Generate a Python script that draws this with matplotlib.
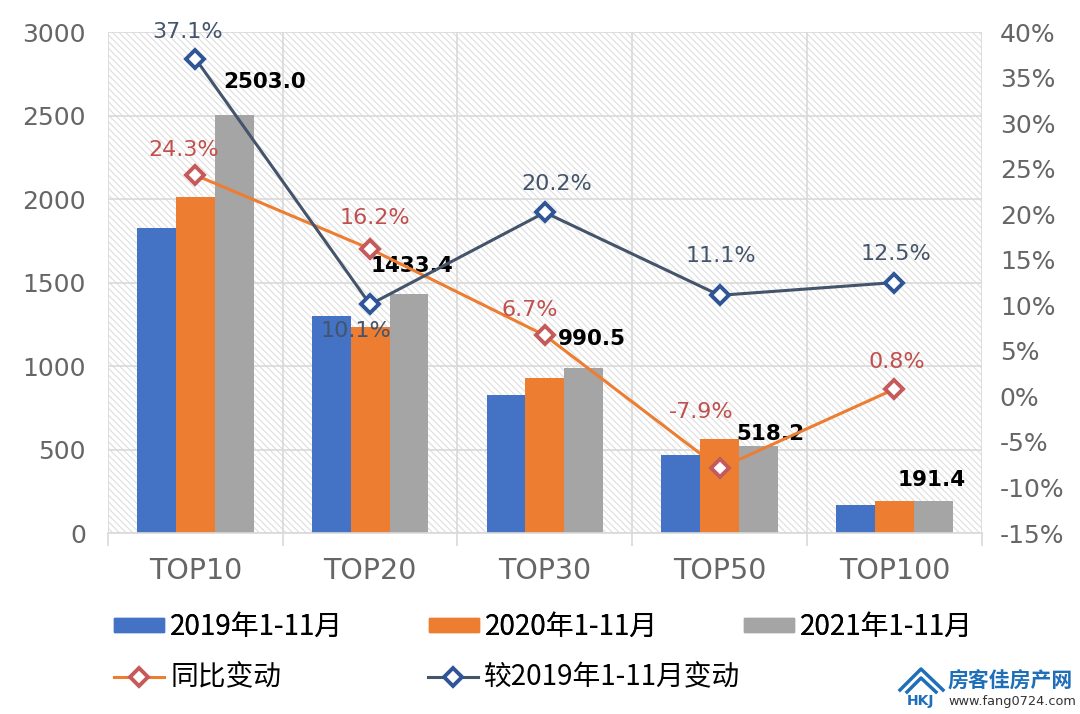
"""
TOP房企销售额对比 (柱+折线双轴)
"""
import numpy as np
import matplotlib
matplotlib.use("Agg")
import matplotlib.pyplot as plt
from matplotlib.patches import Patch
from matplotlib.lines import Line2D
from matplotlib.ticker import FuncFormatter

plt.rcParams['font.family'] = ['DejaVu Sans', 'Noto Sans CJK SC']
plt.rcParams['hatch.color'] = '#dedede'
plt.rcParams['hatch.linewidth'] = 0.8

categories = ["TOP10", "TOP20", "TOP30", "TOP50", "TOP100"]
sales_2019 = [1825.7, 1301.9, 824.0, 466.4, 170.1]
sales_2020 = [2013.7, 1233.6, 928.3, 562.7, 189.9]
sales_2021 = [2503.0, 1433.4, 990.5, 518.2, 191.4]
yoy_change = [24.3, 16.2, 6.7, -7.9, 0.8]
vs2019_change = [37.1, 10.1, 20.2, 11.1, 12.5]

series_names = ["2019年1-11月", "2020年1-11月", "2021年1-11月"]
line_names = ["同比变动", "较2019年1-11月变动"]

# label offsets in pixels (layout only)
bar_lbl_off = [(30, 33), (3, 28), (8, 29), (12, 12), (-2, 21)]
yoy_lbl_off = [(-12, 25), (5, 31), (-15, 25), (-18, 56), (2, 27)]
vs_lbl_off = [(-8, 27), (-14, -27), (12, 28), (1, 39), (2, 29)]

bar_colors = ['#4472C4', '#ED7D31', '#A5A5A5']
yoy_line, yoy_mark = '#ED7D31', '#C55A5A'
vs_line, vs_mark = '#44546A', '#2F5597'
grid_c = '#d9d9d9'
tick_c = '#666666'
cjk = ['Noto Sans CJK SC', 'DejaVu Sans']

fig = plt.figure(figsize=(10.8, 7.14), dpi=100)
ax = fig.add_axes([0.1, 0.2535, 0.809, 0.7015])
ax.patch.set_facecolor('white')
ax.patch.set_hatch('\\\\\\\\\\')
ax.patch.set_edgecolor('#dedede')

x = np.arange(len(categories))
w = 0.222
for i, vals in enumerate([sales_2019, sales_2020, sales_2021]):
    ax.bar(x + (i - 1) * w, vals, w, color=bar_colors[i], zorder=2)

for xi, v, off in zip(x, sales_2021, bar_lbl_off):
    ax.annotate(f"{v:.1f}", (xi + w, v), xytext=off, textcoords='offset pixels',
                ha='center', va='center', fontsize=15.5, fontweight='bold',
                color='black', zorder=6)

ax.set_xlim(-0.5, len(categories) - 0.5)
ax.set_ylim(0, 3000)
ax.set_yticks(np.arange(0, 3001, 500))
ax.set_xticks(x)
ax.set_xticklabels(categories)
ax.set_xticks(np.arange(-0.5, len(categories)), minor=True)
ax.grid(True, which='major', axis='y', color=grid_c, lw=1.2, zorder=1)
ax.grid(True, which='minor', axis='x', color=grid_c, lw=1.2, zorder=1)
ax.set_axisbelow(True)
ax.tick_params(axis='x', which='major', length=0, pad=17, labelsize=20.5, labelcolor=tick_c)
ax.tick_params(axis='x', which='minor', length=9, color=grid_c, width=1.2)
ax.tick_params(axis='y', length=0, pad=16, labelsize=18, labelcolor=tick_c)
for s in ['top', 'left', 'right']:
    ax.spines[s].set_visible(False)
ax.spines['bottom'].set_color(grid_c)
ax.spines['bottom'].set_linewidth(1.2)

ax2 = ax.twinx()
ax2.set_ylim(-15, 40)
ax2.set_yticks(np.arange(-15, 41, 5))
ax2.yaxis.set_major_formatter(FuncFormatter(lambda v, p: f"{v:.0f}%"))
ax2.tick_params(axis='y', length=0, pad=13, labelsize=18, labelcolor=tick_c)
for s in ax2.spines.values():
    s.set_visible(False)

ax2.plot(x, yoy_change, color=yoy_line, lw=2.2, marker='D', ms=9,
         mfc='white', mec=yoy_mark, mew=2.8, zorder=4)
ax2.plot(x, vs2019_change, color=vs_line, lw=2.2, marker='D', ms=9,
         mfc='white', mec=vs_mark, mew=2.8, zorder=4)

for xi, v, off in zip(x, yoy_change, yoy_lbl_off):
    ax2.annotate(f"{v:.1f}%", (xi, v), xytext=off,
                 textcoords='offset pixels', ha='center', va='center',
                 fontsize=16, color='#C0504D', zorder=6)
for xi, v, off in zip(x, vs2019_change, vs_lbl_off):
    ax2.annotate(f"{v:.1f}%", (xi, v), xytext=off,
                 textcoords='offset pixels', ha='center', va='center',
                 fontsize=16, color='#44546A', zorder=6)

# legends: bars on row 1, lines on row 2
bar_h = [Patch(color=c) for c in bar_colors]
line_h = [Line2D([], [], color=yoy_line, lw=2.2, marker='D', ms=9, mfc='white',
                 mec=yoy_mark, mew=2.8),
          Line2D([], [], color=vs_line, lw=2.2, marker='D', ms=9, mfc='white',
                 mec=vs_mark, mew=2.8)]
leg_kw = dict(frameon=False, prop={'family': cjk, 'size': 20}, loc='center left',
              borderpad=0, borderaxespad=0, handlelength=1.8, handleheight=0.45,
              handletextpad=0.2)
leg1 = fig.legend(bar_h, series_names, ncol=3, bbox_to_anchor=(0.106, 0.122),
                  columnspacing=3.1, **leg_kw)
fig.add_artist(leg1)
fig.legend(line_h, line_names, ncol=2, bbox_to_anchor=(0.106, 0.051),
           columnspacing=5.3, **leg_kw)

# watermark
wm = '#1f6fb8'
def px(xp, yp):
    return xp / 1080, 1 - yp / 714
for pts in ([(900, 690), (921, 669), (943, 690)], [(907, 692), (921, 678), (936, 692)]):
    xs, ys = zip(*[px(*p) for p in pts])
    fig.add_artist(Line2D(xs, ys, color=wm, lw=2.5, transform=fig.transFigure))
fig.text(*px(921, 701), "HKJ", fontsize=10, fontweight='bold', color=wm,
         ha='center', va='center')
fig.text(*px(948, 681), "房客佳房产网", fontsize=15, fontweight='bold', color=wm,
         family=cjk, ha='left', va='center')
fig.text(*px(948, 701), "www.fang0724.com", fontsize=9.3, color='#333333',
         ha='left', va='center')

fig.savefig("out.png", dpi=100)
